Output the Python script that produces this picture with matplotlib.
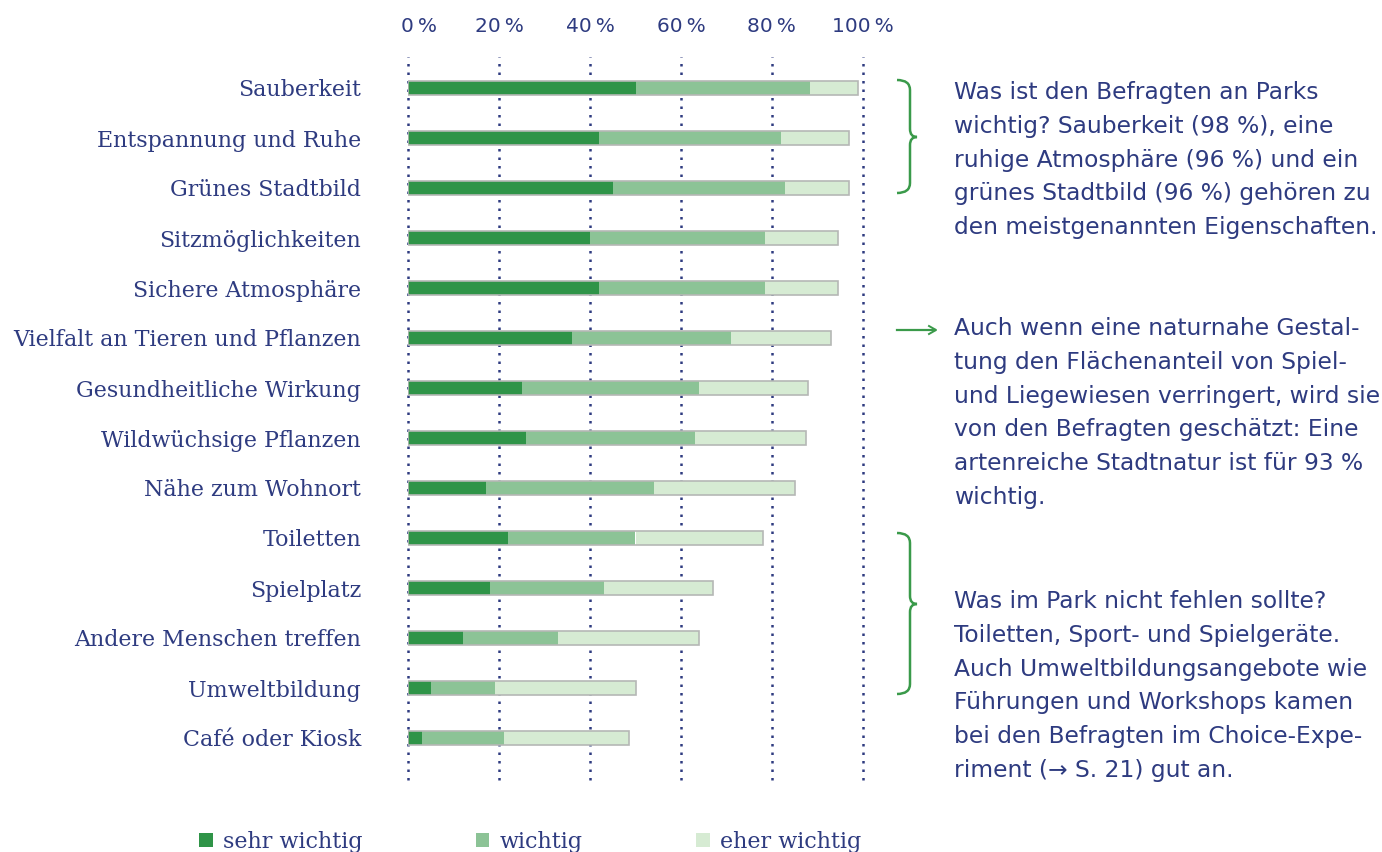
import matplotlib.pyplot as plt
import matplotlib.transforms as mtransforms
from matplotlib.patches import Patch
from matplotlib.path import Path
from matplotlib.patches import PathPatch

categories = ["Sauberkeit", "Entspannung und Ruhe", "Grünes Stadtbild", "Sitzmöglichkeiten",
              "Sichere Atmosphäre", "Vielfalt an Tieren und Pflanzen", "Gesundheitliche Wirkung",
              "Wildwüchsige Pflanzen", "Nähe zum Wohnort", "Toiletten", "Spielplatz",
              "Andere Menschen treffen", "Umweltbildung", "Café oder Kiosk"]
sehr_wichtig = [50, 42, 45, 40, 42, 36, 25, 26, 17, 22, 18, 12, 5, 3]
wichtig = [38.5, 40, 38, 38.5, 36.5, 35, 39, 37, 37, 28, 25, 21, 14, 18]
eher_wichtig = [10.5, 15, 14, 16, 16, 22, 24, 24.5, 31, 28, 24, 31, 31, 27.5]
series_names = ["sehr wichtig", "wichtig", "eher wichtig"]
ticks = [0, 20, 40, 60, 80, 100]
tick_labels = ["0\u202f%", "20\u202f%", "40\u202f%", "60\u202f%", "80\u202f%", "100\u202f%"]

navy = "#2e3b80"
colors = ["#2f9448", "#8cc396", "#d6ebd3"]
green = "#3a9a4a"
sans = ["DejaVu Sans"]
serif = ["DejaVu Serif", "DejaVu Sans"]

W, H = 1382, 852
fig = plt.figure(figsize=(W / 100, H / 100), dpi=100)
ax = fig.add_axes([408.3 / W, 1 - 780 / H, 454.4 / W, 723 / H])

y = list(range(len(categories)))
left = [0] * len(categories)
for vals, c in zip([sehr_wichtig, wichtig, eher_wichtig], colors):
    ax.barh(y, vals, left=left, height=0.29, color=c, edgecolor="none", zorder=3)
    left = [a + b for a, b in zip(left, vals)]
ax.barh(y, left, height=0.29, fill=False, edgecolor="#b5b8b5", linewidth=1.2, zorder=4)

for t in ticks:
    ax.axvline(t, color=navy, linestyle=(0, (1.0, 2.4)), linewidth=1.8,
               dash_capstyle="butt", zorder=1, clip_on=False)

ax.set_xlim(0, 100)
ax.set_ylim(13.84, -0.62)
ax.xaxis.tick_top()
ax.set_xticks(ticks)
ax.set_xticklabels(tick_labels, fontfamily=sans, fontsize=14.5, color=navy)
ax.set_yticks(y)
ax.set_yticklabels(categories, fontfamily=serif, fontsize=15.9, color=navy)
ax.tick_params(axis="x", length=0, pad=15)
ax.tick_params(axis="y", length=0, pad=34)
for s in ax.spines.values():
    s.set_visible(False)
first = ax.get_xticklabels()[0]
first.set_transform(first.get_transform() + mtransforms.ScaledTranslation(8 / 72, 0, fig.dpi_scale_trans))

handles = [Patch(facecolor=c, edgecolor="none") for c in colors]
fig.legend(handles, series_names, loc="center left", bbox_to_anchor=(179 / W, 1 - 842 / H),
           ncol=3, frameon=False, handlelength=0.62, handleheight=0.62, handletextpad=0.45,
           columnspacing=5.1, prop={"family": serif, "size": 16}, labelcolor=navy)


def px(x, yy):
    return x / W, 1 - yy / H


def brace(top, bot, mid):
    x0, xs, xt = 897, 910, 917
    pts = [px(x0, top), px(xs, top), px(xs, top + 10), px(xs, mid - 8), px(xs, mid), px(xt, mid),
           px(xs, mid), px(xs, mid + 8), px(xs, bot - 10), px(xs, bot), px(x0, bot)]
    codes = [Path.MOVETO, Path.CURVE3, Path.CURVE3, Path.LINETO, Path.CURVE3, Path.CURVE3,
             Path.CURVE3, Path.CURVE3, Path.LINETO, Path.CURVE3, Path.CURVE3]
    fig.add_artist(PathPatch(Path(pts, codes), fill=False, edgecolor=green, linewidth=1.8,
                             transform=fig.transFigure))


brace(80, 193, 137)
brace(533, 694, 604)
fig.add_artist(plt.Line2D([897 / W, 935 / W], [1 - 330 / H] * 2, color=green, linewidth=1.6,
                          transform=fig.transFigure))
fig.add_artist(plt.Line2D([929 / W, 936 / W, 929 / W], [1 - 326 / H, 1 - 330 / H, 1 - 334 / H],
                          color=green, linewidth=1.4, transform=fig.transFigure))

texts = [
    (81, "Was ist den Befragten an Parks\nwichtig? Sauberkeit (98 %), eine\nruhige Atmosphäre (96 %) und ein\n"
         "grünes Stadtbild (96 %) gehören zu\nden meistgenannten Eigenschaften."),
    (317, "Auch wenn eine naturnahe Gestal-\ntung den Flächenanteil von Spiel-\nund Liegewiesen verringert, wird sie\n"
          "von den Befragten geschätzt: Eine\nartenreiche Stadtnatur ist für 93 %\nwichtig."),
    (590, "Was im Park nicht fehlen sollte?\nToiletten, Sport- und Spielgeräte.\nAuch Umweltbildungsangebote wie\n"
          "Führungen und Workshops kamen\nbei den Befragten im Choice-Expe-\nriment (\u2192 S. 21) gut an."),
]
for top, t in texts:
    fig.text(954 / W, 1 - top / H, t, ha="left", va="top", fontfamily=sans,
             fontsize=16.8, color=navy, linespacing=1.6)

fig.savefig("out.png", dpi=100)
